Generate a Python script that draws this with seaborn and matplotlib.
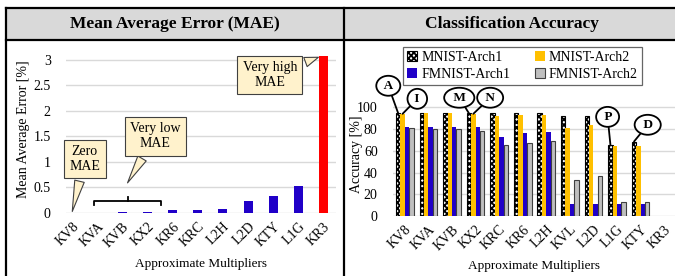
import numpy as np
import pandas as pd
import matplotlib.pyplot as plt
import seaborn as sns
from matplotlib.lines import Line2D
from matplotlib.patches import Rectangle, Patch

# data
mae_mults = ["KV8", "KVA", "KVB", "KX2", "KR6", "KRC", "L2H", "L2D", "KTY", "L1G", "KR3"]
mae_vals = [0.0, 0.003, 0.01, 0.015, 0.05, 0.055, 0.08, 0.23, 0.34, 0.52, 3.08]

acc_mults = ["KV8", "KVA", "KVB", "KX2", "KRC", "KR6", "L2H", "KVL", "L2D", "L1G", "KTY", "KR3"]
series = ["MNIST-Arch1", "MNIST-Arch2", "FMNIST-Arch1", "FMNIST-Arch2"]
mnist_arch1 = [94.5, 94.5, 94.8, 94.5, 94.5, 94.5, 94.5, 92.2, 92.4, 65.4, 68.5, np.nan]
mnist_arch2 = [94.0, 94.5, 94.5, 94.0, 92.4, 93.0, 93.0, 80.8, 83.9, 64.8, 64.5, np.nan]
fmnist_arch1 = [82.0, 82.0, 81.5, 81.5, 72.8, 76.8, 77.7, 10.8, 10.8, 10.8, 10.8, np.nan]
fmnist_arch2 = [81.0, 80.0, 80.0, 78.3, 65.2, 67.6, 69.4, 33.2, 36.9, 13.2, 13.2, np.nan]

BLUE = "#2000C8"
RED = "#FF0000"
GOLD = "#FFC000"
GRAY = "#BFBFBF"
CALLOUT = "#FFF2CC"
GRID = "#D9D9D9"

plt.rcParams["font.family"] = ["Liberation Serif", "DejaVu Serif"]
plt.rcParams["hatch.linewidth"] = 1.3

W, H = 675, 276
fig = plt.figure(figsize=(W / 100, H / 100), dpi=100)


def box(x0, y0, x1, y1):
    return [x0 / W, 1 - y1 / H, (x1 - x0) / W, (y1 - y0) / H]


# frame + header bands
fig.patches.append(Rectangle((6 / W, 1 - 40 / H), (W - 6) / W, 32 / H,
                             transform=fig.transFigure, facecolor="#D9D9D9",
                             edgecolor="none", zorder=0))
for xs, ys in [([6, W], [8, 8]), ([6, W], [40, 40]), ([6, 6], [8, H]), ([344, 344], [8, H])]:
    fig.add_artist(Line2D([x / W for x in xs], [1 - y / H for y in ys],
                          color="black", lw=1.6, transform=fig.transFigure))
fig.text(175 / W, 1 - 24 / H, "Mean Average Error (MAE)", ha="center", va="center",
         fontsize=12.5, fontweight="bold")
fig.text(512 / W, 1 - 24 / H, "Classification Accuracy", ha="center", va="center",
         fontsize=12.5, fontweight="bold")

# ---------------- left: MAE ----------------
ax1 = fig.add_axes(box(66, 45, 336, 213))
mae_colors = [BLUE] * (len(mae_mults) - 1) + [RED]
sns.barplot(x=mae_mults, y=mae_vals, hue=mae_mults, palette=mae_colors, width=0.36,
            saturation=1, legend=False, ax=ax1)
ax1.set_xlim(-0.25, 10.5)
ax1.set_ylim(0, 3.29)
ax1.set_yticks([0, 0.5, 1, 1.5, 2, 2.5, 3])
ax1.set_yticklabels(["0", "0.5", "1", "1.5", "2", "2.5", "3"])
ax1.yaxis.grid(True, color=GRID, lw=1)
ax1.set_axisbelow(True)
for s in ax1.spines.values():
    s.set_visible(False)
ax1.tick_params(length=0, labelsize=10)
ax1.tick_params(axis="y", pad=11)
ax1.tick_params(axis="x", pad=5)
plt.setp(ax1.get_xticklabels(), rotation=45, ha="right", rotation_mode="anchor")
ax1.set_ylabel("Mean Average Error [%]", fontsize=10)
ax1.yaxis.set_label_coords(-0.135, 0.5)
ax1.set_xlabel("Approximate Multipliers", fontsize=9.5)
ax1.xaxis.set_label_coords(0.5, -0.265)

call = dict(ha="center", va="center", fontsize=10, annotation_clip=False,
            bbox=dict(boxstyle="square,pad=0.38", fc=CALLOUT, ec="#404040", lw=0.8),
            arrowprops=dict(arrowstyle="wedge,tail_width=0.7,shrink_factor=0.5",
                            fc=CALLOUT, ec="#404040", lw=0.8, shrinkB=0))
ax1.annotate("Zero\nMAE", xy=(0, 0.03), xytext=(0.5, 1.06), **call)
ax1.annotate("Very low\nMAE", xy=(2.2, 0.59), xytext=(3.3, 1.5), **call)
ax1.annotate("Very high\nMAE", xy=(9.8, mae_vals[-1] - 0.03), xytext=(7.87, 2.70), **call)
ax1.plot([0.85, 0.85, 3.55, 3.55], [0.157, 0.235, 0.235, 0.157], color="black", lw=1.3)
ax1.plot([2.2, 2.2], [0.235, 0.31], color="black", lw=1.3)

# ---------------- right: accuracy ----------------
ax2 = fig.add_axes(box(393, 45, 676, 216))
df = pd.DataFrame({
    "mult": np.tile(acc_mults, 4),
    "series": np.repeat(series, len(acc_mults)),
    "acc": np.concatenate([mnist_arch1, mnist_arch2, fmnist_arch1, fmnist_arch2]),
})
sns.barplot(data=df, x="mult", y="acc", hue="series", order=acc_mults, hue_order=series,
            palette=["white", GOLD, BLUE, GRAY], width=0.75, saturation=1,
            legend=False, ax=ax2)
for bar in ax2.containers[0]:
    bar.set_hatch("xxxxxx")
    bar.set_edgecolor("black")
    bar.set_linewidth(0.8)
for bar in ax2.containers[3]:
    bar.set_edgecolor("#404040")
    bar.set_linewidth(0.8)
ax2.set_xlim(-0.5, 11.5)
ax2.set_ylim(0, 157.3)
ax2.set_yticks([0, 20, 40, 60, 80, 100])
ax2.yaxis.grid(True, color=GRID, lw=1)
ax2.set_axisbelow(True)
for s in ax2.spines.values():
    s.set_visible(False)
ax2.tick_params(length=0, labelsize=10)
ax2.tick_params(axis="y", pad=11)
ax2.tick_params(axis="x", pad=5)
plt.setp(ax2.get_xticklabels(), rotation=45, ha="right", rotation_mode="anchor")
ax2.set_ylabel("Accuracy [%]", fontsize=10)
ax2.yaxis.set_label_coords(-0.105, 0.363)
ax2.set_xlabel("Approximate Multipliers", fontsize=9.5)
ax2.xaxis.set_label_coords(0.5, -0.255)

handles = [
    Patch(facecolor="white", edgecolor="black", hatch="xxxxxx", lw=0.8, label=series[0]),
    Patch(facecolor=BLUE, label=series[2]),
    Patch(facecolor=GOLD, label=series[1]),
    Patch(facecolor=GRAY, edgecolor="#404040", lw=0.8, label=series[3]),
]
leg = ax2.legend(handles=handles, ncol=2, loc="upper left",
                 bbox_to_anchor=(10 / 283, 1 - 2 / 171), frameon=True, fancybox=False,
                 edgecolor="#404040", fontsize=10, handlelength=0.7, handleheight=0.7,
                 handletextpad=0.3, columnspacing=1.8, borderpad=0.3, labelspacing=0.25,
                 borderaxespad=0)
leg.get_frame().set_linewidth(0.9)

off = [-0.28, -0.094, 0.094, 0.28]
circ = dict(ha="center", va="center", fontsize=9.5, fontweight="bold", annotation_clip=False,
            bbox=dict(boxstyle="ellipse,pad=0.08", fc="white", ec="black", lw=1.3),
            arrowprops=dict(arrowstyle="-", color="black", lw=1.3, shrinkA=0, shrinkB=0))
ax2.annotate(" A ", xy=(0 + off[0], mnist_arch1[0]), xytext=(-0.7, 119.8), **circ)
ax2.annotate(" I ", xy=(0 + off[1], mnist_arch2[0]), xytext=(0.53, 107.8), **circ)
ax2.annotate(" M ", xy=(3 + off[0], mnist_arch1[3]), xytext=(2.31, 108.8), **circ)
ax2.annotate(" N ", xy=(3 + off[1], mnist_arch2[3]), xytext=(3.62, 108.8), **circ)
ax2.annotate(" P ", xy=(9 + off[0], mnist_arch1[9]), xytext=(8.6, 91.2), **circ)
ax2.annotate(" D ", xy=(10 + off[0], mnist_arch1[10]), xytext=(10.3, 83.9), **circ)

fig.savefig("out.png", dpi=100)
